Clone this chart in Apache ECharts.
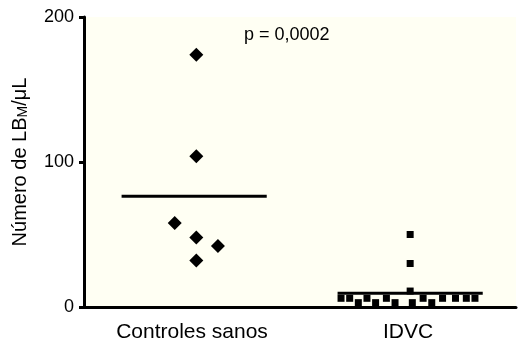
<!DOCTYPE html>
<html>
<head>
<meta charset="utf-8">
<script src="https://cdn.jsdelivr.net/npm/echarts@6/dist/echarts.min.js"></script>
<style>
html,body{margin:0;padding:0;background:#fff;}
#chart{width:519px;height:346px;}
</style>
</head>
<body>
<div id="chart"></div>
<script>
// ---- data ----
var categories = ['Controles sanos', 'IDVC'];
var yTicks = [0, 100, 200];
var controlValues  = [174, 104, 58, 48, 42, 32];
var controlOffsets = [0.02, 0.02, -0.08, 0.02, 0.12, 0.02];
var idvcValues  = [50, 30, 11, 6, 6, 6, 6, 6, 6, 6, 6, 6, 3, 3, 3, 3, 3];
var idvcOffsets = [0.01, 0.01, 0.01, -0.31, -0.27, -0.19, -0.10, 0.07, 0.16, 0.22, 0.27, 0.31, -0.23, -0.15, -0.06, 0.02, 0.11];
var pText = 'p = 0,0002';

// ---- build ----
function mean(a){ var s=0; for (var i=0;i<a.length;i++) s+=a[i]; return s/a.length; }
function pts(catIdx, vals, offs){
  return vals.map(function(v,i){ return [catIdx + 0.5 + offs[i], v]; });
}
var halfW = 0.336;
function meanLine(catIdx, vals){
  var m = mean(vals), c = catIdx + 0.5 + 0.01;
  return [[c - halfW, m], [c + halfW, m]];
}
var font = '"Liberation Sans", Arial, Helvetica, sans-serif';

var chart = echarts.init(document.getElementById('chart'), null, {renderer:'canvas'});
chart.setOption({
  animation: false,
  backgroundColor: '#ffffff',
  textStyle: {fontFamily: font},
  title: {
    text: pText, left: 239, top: 21,
    textStyle: {fontFamily: font, fontSize: 18, fontWeight: 'normal', color: '#000'}
  },
  grid: {left: 84, right: 0, top: 17, bottom: 39, show: true, backgroundColor: '#fffff3', borderWidth: 0},
  xAxis: {
    type: 'value', min: 0, max: 2, interval: 0.5,
    axisLine: {show: true, onZero: false, lineStyle: {color: '#000', width: 3}},
    axisTick: {show: false},
    splitLine: {show: false},
    axisLabel: {
      fontFamily: font, fontSize: 21, color: '#000', margin: 15,
      showMinLabel: true, showMaxLabel: true,
      formatter: function(v){
        var i = Math.round(v - 0.5);
        return (Math.abs(v - (i + 0.5)) < 1e-6 && categories[i]) ? categories[i] : '';
      }
    }
  },
  yAxis: {
    type: 'value', min: yTicks[0], max: yTicks[yTicks.length-1], interval: yTicks[1]-yTicks[0],
    name: '{a|Número de LB}{b|M}{a|/μL}',
    nameLocation: 'middle', nameGap: 54, nameRotate: 90,
    nameTextStyle: {
      rich: {
        a: {fontFamily: font, fontSize: 20, color: '#000'},
        b: {fontFamily: font, fontSize: 14, color: '#000', padding: [6,0,0,0]}
      }
    },
    axisLine: {show: true, lineStyle: {color: '#000', width: 3}},
    axisTick: {show: true, length: 5, lineStyle: {color: '#000', width: 3}},
    splitLine: {show: false},
    axisLabel: {fontFamily: font, fontSize: 18, color: '#000', margin: 10}
  },
  series: [
    {type: 'scatter', symbol: 'diamond', symbolSize: 14, itemStyle: {color: '#000', opacity: 1},
     data: pts(0, controlValues, controlOffsets)},
    {type: 'scatter', symbol: 'rect', symbolSize: 7, itemStyle: {color: '#000', opacity: 1},
     data: pts(1, idvcValues, idvcOffsets)},
    {type: 'line', symbol: 'none', lineStyle: {color: '#000', width: 3},
     data: meanLine(0, controlValues)},
    {type: 'line', symbol: 'none', lineStyle: {color: '#000', width: 3},
     data: meanLine(1, idvcValues)}
  ]
});
</script>
</body>
</html>
